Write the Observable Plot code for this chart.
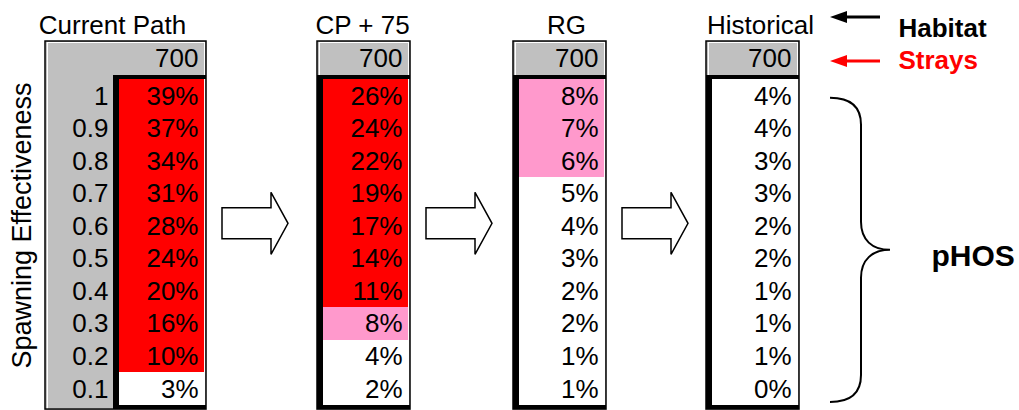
<!DOCTYPE html>
<html>
<head>
<meta charset="utf-8">
<script src="https://cdn.jsdelivr.net/npm/d3@7"></script>
<script src="https://cdn.jsdelivr.net/npm/@observablehq/plot@0.6"></script>
<style>
  html, body { margin: 0; padding: 0; background: #fff; }
  #chart svg { display: block; }
</style>
</head>
<body>
<div id="chart"></div>
<script>
// Scenarios, hatchery strays and pHOS (%) by spawning effectiveness
const scenarios = ["Current Path", "CP + 75", "RG", "Historical"];
const strays = [700, 700, 700, 700];
const effectiveness = [1, 0.9, 0.8, 0.7, 0.6, 0.5, 0.4, 0.3, 0.2, 0.1];
const currentPath = [39, 37, 34, 31, 28, 24, 20, 16, 10, 3];
const cpPlus75 = [26, 24, 22, 19, 17, 14, 11, 8, 4, 2];
const rg = [8, 7, 6, 5, 4, 3, 2, 2, 1, 1];
const historical = [4, 4, 3, 3, 2, 2, 1, 1, 1, 0];
const series = [currentPath, cpPlus75, rg, historical];

// pHOS shading bands: white < 6%, pink 6–9%, red >= 10%
const phosBreaks = [6, 10];
const phosColors = ["#ffffff", "#ff99cc", "#ff0000"];

// ---- layout ----
const W = 1019, H = 410;
const FONT = "'Liberation Sans', Arial, Helvetica, sans-serif";
const FS = 26;
const tableLeft = [45, 317, 513, 706];
const tableRight = [206, 410, 606, 799];
const titleX = [112, 362, 566, 760];
const labelColRight = 113;   // the first table carries the effectiveness column
const barW = 6;              // thick black separator
// vertical extents, in effectiveness units (each row spans e ± 0.05)
const headerTop = 1.165, headerBottom = 1.065, rowsTop = 1.05, rowsBottom = 0.05;
const frameTop = 1.168, frameBottom = 0.0375;
const innerTop = 1.162;
const arrowEff = 0.608;

const tables = scenarios.map((name, t) => {
  const L = tableLeft[t], R = tableRight[t];
  const barL = t === 0 ? labelColRight : L;
  return {t, name, L, R, barL, dataL: barL + barW, dataR: R - 2, strays: strays[t]};
});

const cells = tables.flatMap((tb) =>
  effectiveness.map((e, i) => ({...tb, eff: e, pct: series[tb.t][i]}))
);

// hollow block arrows between consecutive tables
function blockArrows(index, scales) {
  const g = d3.create("svg:g");
  const cy = scales.y(arrowEff);
  for (let t = 0; t < tables.length - 1; ++t) {
    const x0 = scales.x(tables[t].R + 16);
    const pts = [
      [x0, cy - 15.5], [x0 + 49, cy - 15.5], [x0 + 49, cy - 31],
      [x0 + 66, cy], [x0 + 49, cy + 31], [x0 + 49, cy + 15.5], [x0, cy + 15.5]
    ];
    g.append("path")
      .attr("d", "M" + pts.map((p) => p.join(",")).join("L") + "Z")
      .attr("fill", "#fff")
      .attr("stroke", "#000")
      .attr("stroke-width", 1.5)
      .attr("stroke-linejoin", "miter");
  }
  return g.node();
}

// curly brace grouping the Historical pHOS values
function brace(index, scales) {
  const top = scales.y(1) + 2, bottom = scales.y(rowsBottom) - 3;
  const mid = (top + bottom) / 2;
  const x0 = 830, xv = 861, xt = 890;
  const d = `M${x0},${top}
    C${x0 + 22},${top} ${xv},${top + 10} ${xv},${top + 27}
    L${xv},${mid - 28}
    C${xv},${mid - 10} ${xv + 11},${mid} ${xt},${mid}
    C${xv + 11},${mid} ${xv},${mid + 10} ${xv},${mid + 28}
    L${xv},${bottom - 27}
    C${xv},${bottom - 10} ${x0 + 22},${bottom} ${x0},${bottom}`;
  return d3.create("svg:path")
    .attr("d", d)
    .attr("fill", "none")
    .attr("stroke", "#000")
    .attr("stroke-width", 2)
    .node();
}

// key arrows pointing back at the title row and the strays row
function keyArrows() {
  const g = d3.create("svg:g");
  for (const [cy, color] of [[17, "#000"], [61, "#ff0000"]]) {
    g.append("line")
      .attr("x1", 880).attr("x2", 842).attr("y1", cy).attr("y2", cy)
      .attr("stroke", color).attr("stroke-width", 3);
    g.append("path")
      .attr("d", `M830,${cy}L847,${cy - 6}L847,${cy + 6}Z`)
      .attr("fill", color);
  }
  return g.node();
}

const note = (text, dx, dy, opts = {}) =>
  Plot.text([text], {
    text: (d) => d, frameAnchor: "top-left", dx, dy,
    lineAnchor: "bottom", textAnchor: "start", fontSize: FS, fill: "#000", ...opts
  });

const crisp = {shapeRendering: "crispEdges"};

const chart = Plot.plot({
  width: W,
  height: H,
  margin: 0,
  style: {fontFamily: FONT, background: "#fff", overflow: "visible"},
  x: {type: "linear", domain: [0, W], range: [0, W], axis: null},
  y: {type: "linear", domain: [rowsBottom, headerTop], range: [405, 42], axis: null},
  color: {type: "threshold", domain: phosBreaks, range: phosColors, legend: false},
  marks: [
    // grey table body (header row and effectiveness column)
    Plot.rect(tables, {x1: (d) => d.L, x2: (d) => d.R, y1: frameBottom, y2: frameTop, fill: "#c0c0c0", ...crisp}),
    // thin white inner rule along the grey
    Plot.rect(tables, {x1: (d) => d.L + 2, x2: (d) => d.R - 2, y1: frameBottom - 0.02, y2: innerTop,
      fill: "none", stroke: "#fff", strokeWidth: 1, ...crisp}),
    // pHOS cells shaded by value
    Plot.rect(cells, {x1: "dataL", x2: "dataR", y1: (d) => d.eff - 0.05, y2: (d) => d.eff + 0.05, fill: "pct", ...crisp}),
    // thick separators
    Plot.rect(tables, {x1: "barL", x2: (d) => d.R, y1: rowsTop, y2: headerBottom, fill: "#000", ...crisp}),
    Plot.rect(tables, {x1: "barL", x2: (d) => d.barL + barW, y1: rowsBottom, y2: headerBottom, fill: "#000", ...crisp}),
    Plot.rect(tables, {x1: "barL", x2: (d) => d.R, y1: frameBottom, y2: rowsBottom, fill: "#000", ...crisp}),
    // outer frame
    Plot.rect(tables, {x1: (d) => d.L, x2: (d) => d.R, y1: frameBottom, y2: frameTop, fill: "none", stroke: "#000", strokeWidth: 1.5}),
    // strays header
    Plot.text(tables, {x: (d) => d.dataR - 6, y: (headerTop + headerBottom) / 2, text: (d) => String(d.strays),
      textAnchor: "end", lineAnchor: "middle", fontSize: FS, fill: "#000"}),
    // effectiveness labels
    Plot.text(effectiveness, {x: labelColRight - 5, y: (d) => d, text: (d) => String(d),
      textAnchor: "end", lineAnchor: "middle", fontSize: FS, fill: "#000"}),
    // pHOS values
    Plot.text(cells, {x: (d) => d.dataR - 6, y: "eff", text: (d) => `${d.pct}%`,
      textAnchor: "end", lineAnchor: "middle", fontSize: FS, fill: "#000"}),
    // scenario titles
    ...tables.map((tb) => note(tb.name, titleX[tb.t], 33, {textAnchor: "middle"})),
    // axis title
    note("Spawning Effectiveness", 22, 225, {rotate: -90, textAnchor: "middle", lineAnchor: "middle", fontSize: 27}),
    blockArrows,
    brace,
    keyArrows,
    note("Habitat", 898, 36, {fontWeight: "bold", fontSize: 26}),
    note("Strays", 898, 68, {fontWeight: "bold", fontSize: 26, fill: "#ff0000"}),
    note("pHOS", 931, 265, {fontWeight: "bold", fontSize: 30})
  ]
});

document.getElementById("chart").append(chart);
</script>
</body>
</html>
